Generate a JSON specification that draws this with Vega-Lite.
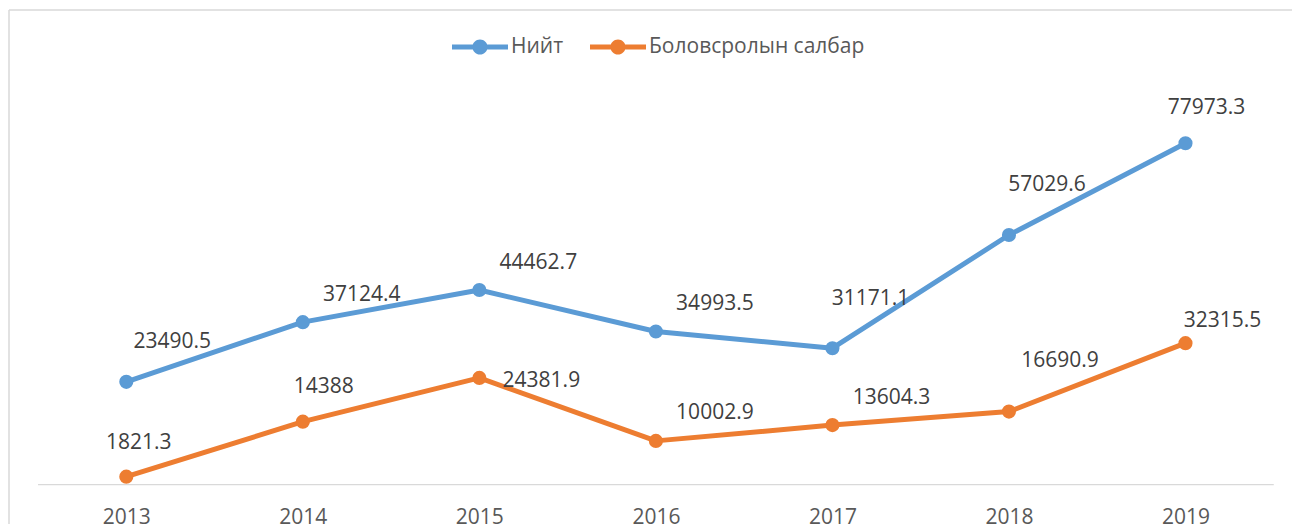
{
  "$schema": "https://vega.github.io/schema/vega-lite/v6.json",
  "width": 1283,
  "height": 514,
  "autosize": "none",
  "padding": {"left": 9, "top": 10, "right": 0, "bottom": 0},
  "background": "white",
  "config": {
    "view": {"stroke": null},
    "font": "Open Sans"
  },
  "data": {
    "values": [
      {"series": "Нийт", "year": 2013, "value": 23490.5},
      {"series": "Нийт", "year": 2014, "value": 37124.4},
      {"series": "Нийт", "year": 2015, "value": 44462.7},
      {"series": "Нийт", "year": 2016, "value": 34993.5},
      {"series": "Нийт", "year": 2017, "value": 31171.1},
      {"series": "Нийт", "year": 2018, "value": 57029.6},
      {"series": "Нийт", "year": 2019, "value": 77973.3},
      {"series": "Боловсролын салбар", "year": 2013, "value": 1821.3},
      {"series": "Боловсролын салбар", "year": 2014, "value": 14388},
      {"series": "Боловсролын салбар", "year": 2015, "value": 24381.9},
      {"series": "Боловсролын салбар", "year": 2016, "value": 10002.9},
      {"series": "Боловсролын салбар", "year": 2017, "value": 13604.3},
      {"series": "Боловсролын салбар", "year": 2018, "value": 16690.9},
      {"series": "Боловсролын салбар", "year": 2019, "value": 32315.5}
    ]
  },
  "encoding": {
    "x": {"field": "year", "type": "quantitative", "scale": {"domain": [2012.3355, 2019.6034], "nice": false, "zero": false},
      "axis": {"orient": "bottom", "offset": -39, "domain": false, "ticks": false, "grid": false, "values": [2013, 2014, 2015, 2016, 2017, 2018, 2019], "format": "d", "labelFont": "Open Sans", "labelFontSize": 21, "labelColor": "#595959", "labelPadding": 21, "title": null, "labelFlush": false, "labelOverlap": false}},
    "y": {"field": "value", "type": "quantitative", "scale": {"domain": [-8983, 108421], "nice": false, "zero": false}, "axis": null}
  },
  "layer": [
    {
      "transform": [{"filter": "datum.series == 'Нийт' && datum.year == 2013"}],
      "mark": {"type": "rule", "color": "#d9d9d9", "strokeWidth": 1.5},
      "encoding": {
        "x": {"datum": 2012.3355, "type": "quantitative"},
        "y": {"datum": -8983, "type": "quantitative"},
        "y2": {"datum": 108421}
      }
    },
    {
      "transform": [{"filter": "datum.series == 'Нийт' && datum.year == 2013"}],
      "mark": {"type": "rule", "color": "#d9d9d9", "strokeWidth": 1.5},
      "encoding": {
        "x": {"datum": 2012.3355, "type": "quantitative"},
        "x2": {"datum": 2019.6034},
        "y": {"datum": 108421, "type": "quantitative"}
      }
    },
    {
      "transform": [{"filter": "datum.series == 'Нийт' && datum.year == 2013"}],
      "mark": {"type": "rule", "color": "#d9d9d9", "strokeWidth": 1.3},
      "encoding": {
        "x": {"datum": 2012.5, "type": "quantitative"},
        "x2": {"datum": 2019.5},
        "y": {"datum": 0, "type": "quantitative"}
      }
    },
    {
      "mark": {"type": "line", "strokeWidth": 5, "strokeCap": "round", "strokeJoin": "round"},
      "encoding": {
        "color": {"field": "series", "type": "nominal", "scale": {"domain": ["Нийт", "Боловсролын салбар"], "range": ["#5B9BD5", "#ED7D31"]},
          "legend": {"orient": "none", "legendX": 443, "legendY": 9, "direction": "horizontal", "title": null, "padding": 0,
            "symbolType": "M-1,-0.09H1V0.09H-1Z M0.27,0A0.27,0.27 0 1 1 -0.27,0A0.27,0.27 0 1 1 0.27,0Z",
            "symbolSize": 3136, "symbolStrokeWidth": 0, "symbolOpacity": 1, "labelOffset": 3, "columnPadding": 26,
            "labelFont": "Open Sans", "labelFontSize": 21, "labelColor": "#595959", "labelLimit": 400,
            "encode": {"symbols": {"update": {"fill": {"scale": "color", "field": "value"}, "stroke": {"value": "transparent"}, "strokeWidth": {"value": 0}, "opacity": {"value": 1}}}}}}
      }
    },
    {
      "mark": {"type": "point", "filled": true, "size": 200, "opacity": 1},
      "encoding": {
        "color": {"field": "series", "type": "nominal", "scale": {"domain": ["Нийт", "Боловсролын салбар"], "range": ["#5B9BD5", "#ED7D31"]},
          "legend": {"orient": "none", "legendX": 443, "legendY": 9, "direction": "horizontal", "title": null, "padding": 0,
            "symbolType": "M-1,-0.09H1V0.09H-1Z M0.27,0A0.27,0.27 0 1 1 -0.27,0A0.27,0.27 0 1 1 0.27,0Z",
            "symbolSize": 3136, "symbolStrokeWidth": 0, "symbolOpacity": 1, "labelOffset": 3, "columnPadding": 26,
            "labelFont": "Open Sans", "labelFontSize": 21, "labelColor": "#595959", "labelLimit": 400,
            "encode": {"symbols": {"update": {"fill": {"scale": "color", "field": "value"}, "stroke": {"value": "transparent"}, "strokeWidth": {"value": 0}, "opacity": {"value": 1}}}}}}
      }
    },
    {
      "transform": [{"filter": "(datum.series == 'Нийт' && indexof([2014, 2015, 2016], datum.year) >= 0) || (datum.series != 'Нийт' && indexof([2016, 2017], datum.year) >= 0)"}],
      "mark": {"type": "text", "dx": 59, "dy": -27.5, "align": "center", "baseline": "middle", "fontSize": 21, "font": "Open Sans", "color": "#404040"},
      "encoding": {"text": {"field": "value", "type": "nominal"}}
    },
    {
      "transform": [{"filter": "datum.series == 'Нийт' && indexof([2017, 2018], datum.year) >= 0"}],
      "mark": {"type": "text", "dx": 38, "dy": -49.5, "align": "center", "baseline": "middle", "fontSize": 21, "font": "Open Sans", "color": "#404040"},
      "encoding": {"text": {"field": "value", "type": "nominal"}}
    },
    {
      "transform": [{"filter": "(datum.series == 'Нийт' && datum.year == 2019) || (datum.series != 'Нийт' && datum.year == 2014)"}],
      "mark": {"type": "text", "dx": 21, "dy": -35, "align": "center", "baseline": "middle", "fontSize": 21, "font": "Open Sans", "color": "#404040"},
      "encoding": {"text": {"field": "value", "type": "nominal"}}
    },
    {
      "transform": [{"filter": "datum.series == 'Нийт' && datum.year == 2013"}],
      "mark": {"type": "text", "dx": 46, "dy": -40, "align": "center", "baseline": "middle", "fontSize": 21, "font": "Open Sans", "color": "#404040"},
      "encoding": {"text": {"field": "value", "type": "nominal"}}
    },
    {
      "transform": [{"filter": "datum.series != 'Нийт' && datum.year == 2015"}],
      "mark": {"type": "text", "dx": 62, "dy": 3.5, "align": "center", "baseline": "middle", "fontSize": 21, "font": "Open Sans", "color": "#404040"},
      "encoding": {"text": {"field": "value", "type": "nominal"}}
    },
    {
      "transform": [{"filter": "datum.series != 'Нийт' && datum.year == 2018"}],
      "mark": {"type": "text", "dx": 51, "dy": -51, "align": "center", "baseline": "middle", "fontSize": 21, "font": "Open Sans", "color": "#404040"},
      "encoding": {"text": {"field": "value", "type": "nominal"}}
    },
    {
      "transform": [{"filter": "datum.series != 'Нийт' && datum.year == 2019"}],
      "mark": {"type": "text", "dx": 37, "dy": -22.5, "align": "center", "baseline": "middle", "fontSize": 21, "font": "Open Sans", "color": "#404040"},
      "encoding": {"text": {"field": "value", "type": "nominal"}}
    },
    {
      "transform": [{"filter": "datum.series != 'Нийт' && datum.year == 2013"}],
      "mark": {"type": "text", "dx": 12.5, "dy": -33.5, "align": "center", "baseline": "middle", "fontSize": 21, "font": "Open Sans", "color": "#404040"},
      "encoding": {"text": {"field": "value", "type": "nominal"}}
    }
  ]
}
